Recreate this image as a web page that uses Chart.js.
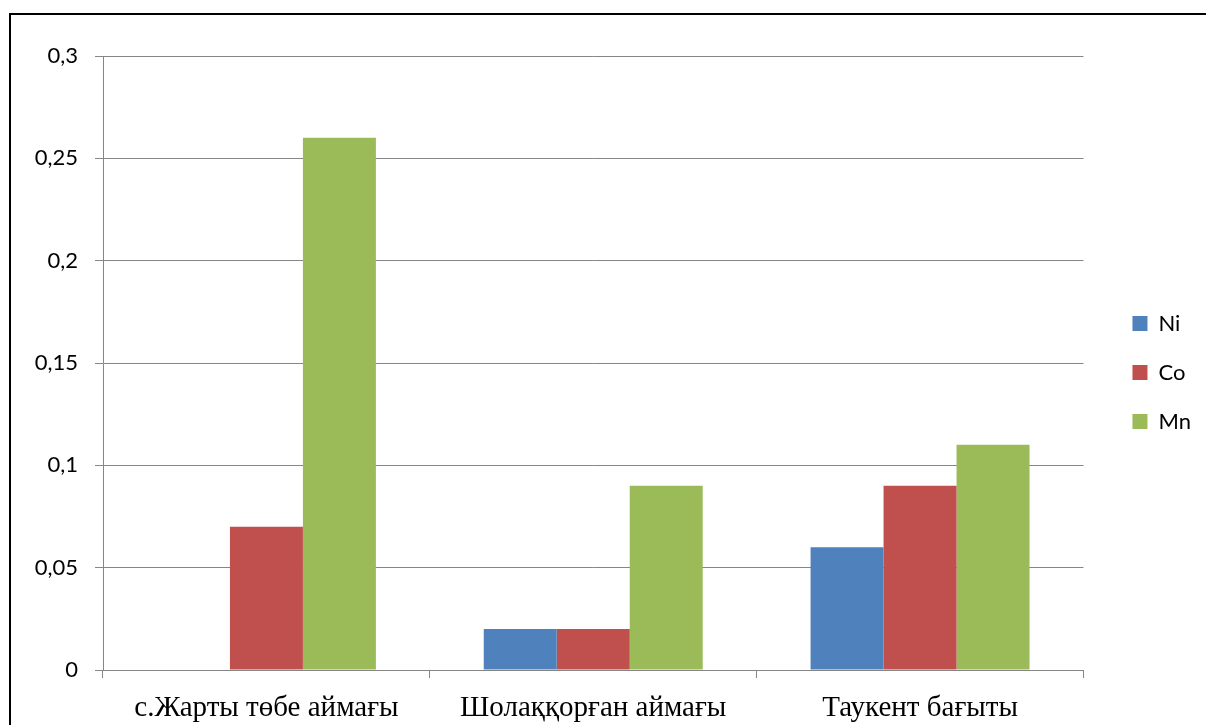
<!DOCTYPE html>
<html>
<head>
<meta charset="utf-8">
<script src="https://cdn.jsdelivr.net/npm/chart.js@4"></script>
<style>
  html, body { margin: 0; padding: 0; background: #fff; }
  #wrap { width: 1206px; height: 725px; }
</style>
</head>
<body>
<div id="wrap"><canvas id="barChart" width="1206" height="725"></canvas></div>
<script>
var categories = ['с.Жарты төбе аймағы', 'Шолаққорған аймағы', 'Таукент бағыты'];
var niValues = [0, 0.02, 0.06];
var coValues = [0.07, 0.02, 0.09];
var mnValues = [0.26, 0.09, 0.11];
var yTicks = [0, 0.05, 0.1, 0.15, 0.2, 0.25, 0.3];

// white background + the outer frame (only top and left edges fall inside the picture)
var frame = {
  id: 'frame',
  beforeDraw: function (chart) {
    var c = chart.ctx;
    c.save();
    c.fillStyle = '#fff';
    c.fillRect(0, 0, chart.width, chart.height);
    c.strokeStyle = '#000';
    c.lineWidth = 2;
    c.strokeRect(10, 14, 1400, 900);
    c.restore();
  }
};

// nudge the legend block to where it sits in the original
var legendShift = {
  id: 'legendShift',
  afterLayout: function (chart) {
    var lg = chart.legend;
    var dx = 22, dy = -18;
    lg.left += dx; lg.right += dx;
    lg.top += dy; lg.bottom += dy;
  }
};

var ctx = document.getElementById('barChart').getContext('2d');
var myChart = new Chart(ctx, {
  type: 'bar',
  data: {
    labels: categories,
    datasets: [
      { label: 'Ni', data: niValues, backgroundColor: '#4F81BD' },
      { label: 'Co', data: coValues, backgroundColor: '#C0504D' },
      { label: 'Mn', data: mnValues, backgroundColor: '#9BBB59' }
    ]
  },
  options: {
    responsive: false,
    animation: false,
    devicePixelRatio: 1,
    layout: { padding: { top: 56, left: 0, right: 27, bottom: 0 } },
    datasets: { bar: { categoryPercentage: 0.67, barPercentage: 1 } },
    scales: {
      x: {
        grid: { offset: true, drawOnChartArea: false, color: '#868686', tickLength: 8 },
        border: { color: '#868686' },
        ticks: {
          color: '#000',
          padding: 13,
          font: { family: 'Liberation Serif', size: 29 }
        },
        afterFit: function (s) { s.height = 55; }
      },
      y: {
        min: 0,
        max: 0.3,
        afterBuildTicks: function (s) {
          s.ticks = yTicks.map(function (v) { return { value: v }; });
        },
        grid: { color: '#868686', tickLength: 8 },
        border: { color: '#868686' },
        ticks: {
          color: '#000',
          padding: 17,
          font: { family: 'Lato', size: 22 },
          callback: function (v) { return String(v).replace('.', ','); }
        },
        afterFit: function (s) { s.width = 103; }
      }
    },
    plugins: {
      legend: {
        position: 'right',
        labels: {
          boxWidth: 15,
          boxHeight: 15,
          padding: 27,
          color: '#000',
          font: { family: 'Lato', size: 22 }
        }
      },
      tooltip: { enabled: false }
    }
  },
  plugins: [frame, legendShift]
});
</script>
</body>
</html>
